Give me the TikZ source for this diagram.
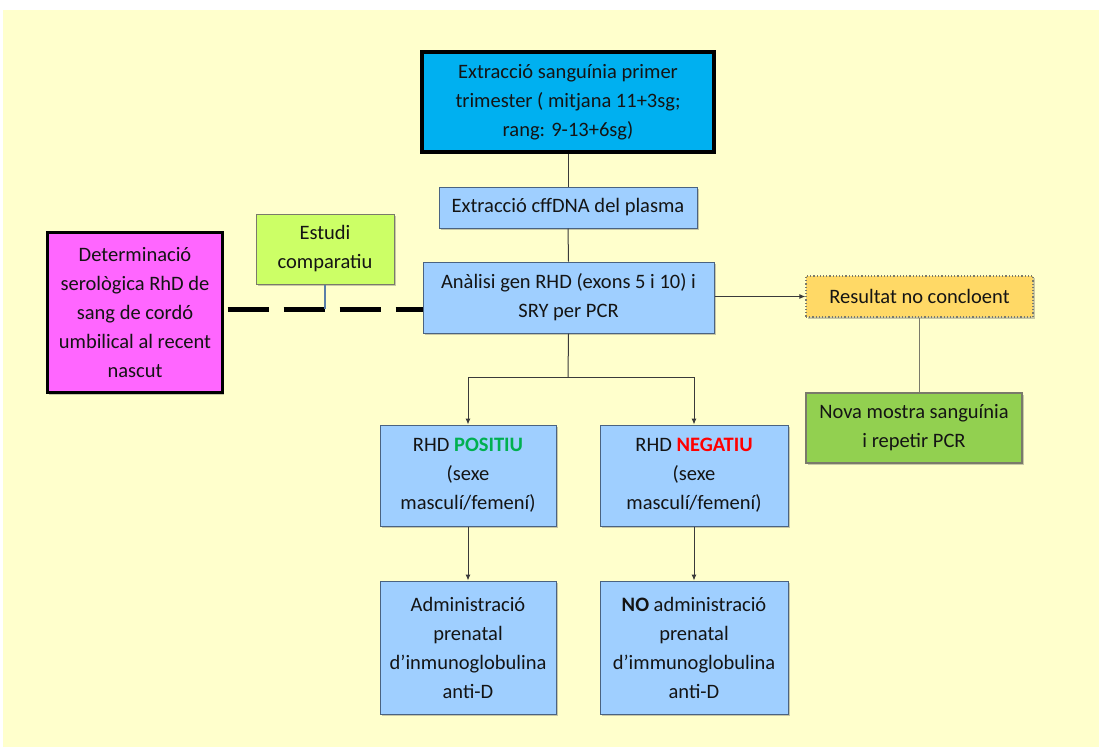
\documentclass[tikz,border=0pt]{standalone}
\usepackage{fontspec}
\setmainfont{Carlito}
\usetikzlibrary{arrows.meta,shadows}
\definecolor{bg}{HTML}{FFFFCC}
\definecolor{topblue}{HTML}{00B0F0}
\definecolor{lightblue}{HTML}{9FCFFF}
\definecolor{boxedge}{HTML}{4A6381}
\definecolor{magentafill}{HTML}{FF66FF}
\definecolor{limefill}{HTML}{CCFF66}
\definecolor{orangefill}{HTML}{FFD966}
\definecolor{greenfill}{HTML}{92D050}
\definecolor{posgreen}{HTML}{00B050}
\definecolor{negred}{HTML}{FF0000}
\definecolor{txt}{HTML}{141414}
\definecolor{linecol}{HTML}{3A3A3A}
\definecolor{grayedge}{HTML}{7A7A6A}
\definecolor{stemblue}{HTML}{5A7FA8}
\begin{document}
\begin{tikzpicture}[x=1pt,y=-1pt,
  basebox/.style={align=center, inner sep=0pt, text=txt,
    font=\fontsize{20.5}{29}\selectfont,
    drop shadow={shadow xshift=1.5pt, shadow yshift=-2pt, opacity=0.3, fill=black!70}},
  bluebox/.style={basebox, draw=boxedge, line width=1pt, fill=lightblue},
  topbox/.style={basebox, draw=black, line width=4pt, fill=topblue},
  magbox/.style={basebox, draw=black, line width=2.2pt, fill=magentafill},
  limebox/.style={basebox, draw=grayedge, line width=1pt, fill=limefill},
  orangebox/.style={basebox, draw=grayedge, line width=1.2pt, dotted, fill=orangefill},
  greenbox/.style={basebox, draw=grayedge, line width=1.2pt, fill=greenfill},
  conn/.style={draw=linecol, line width=1pt},
  arr/.style={conn, -{Latex[length=6pt,width=5pt]}},
  bigdash/.style={draw=black, line width=5pt, dash pattern=on 41pt off 15pt, dash phase=52pt},
]
\useasboundingbox (0,0) rectangle (1099,747);
\fill[bg] (3,10) rectangle (1099,747);

\node[topbox, minimum width=292pt, minimum height=100pt] (top) at (568,102)
  {Extracció sanguínia primer\\trimester ( mitjana 11+3sg;\\rang: 9-13+6sg)};
\node[bluebox, minimum width=258pt, minimum height=41pt] (cff) at (568,207.5)
  {Extracció cffDNA del plasma};
\node[bluebox, minimum width=291pt, minimum height=71pt] (ana) at (568.5,297.5)
  {Anàlisi gen RHD (exons 5 i 10) i\\SRY per PCR};
\node[magbox, minimum width=175pt, minimum height=160pt] (mag) at (135,312.5)
  {Determinació\\serològica RhD de\\sang de cordó\\umbilical al recent\\nascut};
\node[limebox, minimum width=138pt, minimum height=70pt] (est) at (325,249)
  {Estudi\\comparatiu};
\node[orangebox, minimum width=227pt, minimum height=41pt] (res) at (919.5,296.5)
  {Resultat no concloent};
\node[greenbox, minimum width=216pt, minimum height=70pt] (nova) at (914,428)
  {Nova mostra sanguínia\\i repetir PCR};
\node[bluebox, minimum width=176pt, minimum height=101pt] (pos) at (468,475.5)
  {RHD {\bfseries\color{posgreen}POSITIU}\\(sexe\\masculí/femení)};
\node[bluebox, minimum width=188pt, minimum height=101pt] (neg) at (694,475.5)
  {RHD {\bfseries\color{negred}NEGATIU}\\(sexe\\masculí/femení)};
\node[bluebox, minimum width=176pt, minimum height=133pt] (adm) at (468,647.5)
  {Administració\\prenatal\\d’inmunoglobulina\\anti-D};
\node[bluebox, minimum width=188pt, minimum height=133pt] (noadm) at (694,647.5)
  {\textbf{NO} administració\\prenatal\\d’immunoglobulina\\anti-D};

\coordinate (split) at (568,377);
\coordinate (dl) at (0,309);

\draw[conn] (top.south) -- (cff.north);
\draw[conn] (cff.south) -- (ana.north);
\draw[conn] (ana.south) -- (split);
\draw[arr] (split) -| (pos.north);
\draw[arr] (split) -| (neg.north);
\draw[arr] (pos.south) -- (adm.north);
\draw[arr] (neg.south) -- (noadm.north);
\draw[arr] (ana.east |- res.west) -- (res.west);
\draw[draw=grayedge, line width=1.5pt] (res.south) -- (res.south |- nova.north);
\draw[bigdash] (mag.east |- dl) -- (ana.west |- dl);
\draw[draw=stemblue, line width=1.5pt] (est.south) -- (est.south |- dl);
\end{tikzpicture}
\end{document}
